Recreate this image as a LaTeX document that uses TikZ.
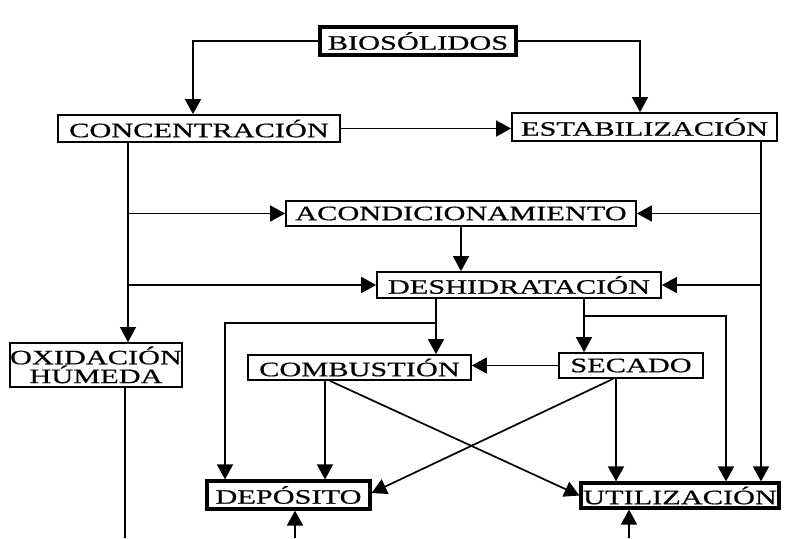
\documentclass[tikz,border=0pt]{standalone}
\usepackage{fontspec}
\setmainfont{Liberation Serif}[FakeStretch=1.48,FakeBold=0.6]
\usetikzlibrary{arrows.meta,calc}
\begin{document}
\begin{tikzpicture}[x=1pt,y=-1pt,
  box/.style={draw,line width=1.8pt,inner sep=0pt,font=\fontsize{20.5}{17.5}\selectfont},
  thickbox/.style={box,line width=3.2pt},
  arr/.style={line width=1.7pt,-{Triangle[length=15pt,width=16pt]}},
  ln/.style={line width=1.7pt}]
\useasboundingbox (0,0) rectangle (786,538);
\fill[white] (0,0) rectangle (786,538);
\node[thickbox,minimum width=196pt,minimum height=28pt] (BIO) at (418,41) {BIOSÓLIDOS};
\node[box,minimum width=282pt,minimum height=27pt] (CON) at (199,128.5) {CONCENTRACIÓN};
\node[box,minimum width=265pt,minimum height=28pt] (EST) at (644.5,127) {ESTABILIZACIÓN};
\node[box,minimum width=350pt,minimum height=25pt] (ACO) at (461,213.5) {ACONDICIONAMIENTO};
\node[box,minimum width=284pt,minimum height=26pt] (DES) at (519,285) {DESHIDRATACIÓN};
\node[box,minimum width=172pt,minimum height=44pt,align=center,font=\fontsize{20.5}{16}\selectfont] (OXI) at (96,365) {OXIDACIÓN\\HÚMEDA};
\node[box,minimum width=223pt,minimum height=25pt] (COM) at (359.5,367.5) {COMBUSTIÓN};
\node[box,minimum width=144pt,minimum height=25pt] (SEC) at (631,365.5) {SECADO};
\node[thickbox,minimum width=163pt,minimum height=28pt] (DEP) at (288.5,495) {DEPÓSITO};
\node[thickbox,minimum width=198pt,minimum height=25pt] (UTI) at (680,495.5) {UTILIZACIÓN};

\coordinate (L) at ([xshift=-71pt]CON.south);
\coordinate (R) at ([xshift=116.5pt]EST.south);
\coordinate (D1) at ([xshift=-83pt]DES.south);
\coordinate (D1b) at ([yshift=-24pt]D1);
\coordinate (D2) at ([xshift=65pt]DES.south);
\coordinate (D2b) at ([yshift=-17pt]D2);
\coordinate (OB) at ([xshift=29pt]OXI.south);
\coordinate (OE) at (125,538);
\coordinate (B1) at (295,538);
\coordinate (B2) at (629,538);

\draw[arr] (BIO.west) -| ([xshift=-6pt]CON.north);
\draw[arr] (BIO.east) -| ([xshift=-4.5pt]EST.north);
\draw[arr] (CON.east) -- (CON.east -| EST.west);
\draw[arr] (L) -- (L |- OXI.north);
\draw[arr] (L |- ACO.west) -- (ACO.west);
\draw[arr] (L |- DES.west) -- (DES.west);
\draw[arr] (R) -- (R |- UTI.north);
\draw[arr] (R |- ACO.east) -- (ACO.east);
\draw[arr] (R |- DES.east) -- (DES.east);
\draw[arr] (ACO.south) -- (ACO.south |- DES.north);
\draw[arr] (D1) -- (D1 |- COM.north);
\draw[arr] (D1b) -| ([xshift=-63.5pt]DEP.north);
\draw[arr] (D2) -- (D2 |- SEC.north);
\draw[arr] (D2b) -| ([xshift=46pt]UTI.north);
\draw[arr] (SEC.west) -- (SEC.west -| COM.east);
\draw[arr] ([xshift=-34.5pt]COM.south) -- ([xshift=-34.5pt]COM.south |- DEP.north);
\draw[arr] ([xshift=-29.5pt]COM.south) -- (UTI.west);
\draw[arr] ([xshift=-18pt]SEC.south) -- ([yshift=2pt]DEP.east);
\draw[arr] ([xshift=-15pt]SEC.south) -- ([xshift=-15pt]SEC.south |- UTI.north);
\draw[ln] (OB) -- (OE);
\draw[arr] (B1) -- (B1 |- DEP.south);
\draw[arr] (B2) -- (B2 |- UTI.south);
\end{tikzpicture}
\end{document}
